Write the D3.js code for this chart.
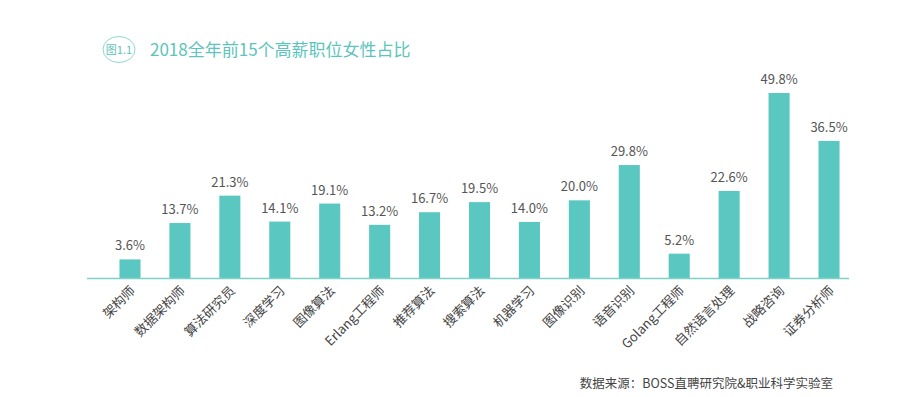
<!DOCTYPE html>
<html>
<head>
<meta charset="utf-8">
<script src="https://cdn.jsdelivr.net/npm/d3@7"></script>
<style>
  html, body { margin: 0; padding: 0; background: #fff; }
  svg { display: block; font-family: "Noto Sans CJK SC", "Noto Sans", sans-serif; }
</style>
</head>
<body>
<svg id="chart"></svg>
<script>
// data
let categories = ["架构师", "数据架构师", "算法研究员", "深度学习", "图像算法", "Erlang工程师", "推荐算法",
    "搜索算法", "机器学习", "图像识别", "语音识别", "Golang工程师", "自然语言处理", "战略咨询", "证券分析师"];
let values = [3.6, 13.7, 21.3, 14.1, 19.1, 13.2, 16.7, 19.5, 14.0, 20.0, 29.8, 5.2, 22.6, 49.8, 36.5];

let title = "2018全年前15个高薪职位女性占比";
let badge = "图1.1";
let source = "数据来源：BOSS直聘研究院&职业科学实验室";

let width = 921;
let height = 397;
let teal = "#5ac8c0";

let svg = d3.select("#chart")
    .attr("width", width)
    .attr("height", height);

let x = d3.scaleBand()
    .domain(categories)
    .range([87, 872])
    .paddingInner(0.578)
    .paddingOuter(0.65);

// bars don't start from zero in the original, the baseline sits a bit below 0
let y = d3.scaleLinear()
    .domain([-1.7, 49.8])
    .range([278.5, 93]);

// title block
svg.append("ellipse")
    .attr("cx", 119)
    .attr("cy", 49.5)
    .attr("rx", 16)
    .attr("ry", 13)
    .attr("fill", "none")
    .attr("stroke", "#8fd6d0")
    .attr("stroke-width", 1);

svg.append("text")
    .attr("x", 119)
    .attr("y", 53.5)
    .attr("text-anchor", "middle")
    .attr("font-size", 11)
    .attr("fill", "#5bc4bc")
    .text(badge);

svg.append("text")
    .attr("x", 150)
    .attr("y", 56)
    .attr("font-size", 17)
    .attr("fill", "#5bc4bc")
    .text(title);

// bars
svg.selectAll("rect.bar")
    .data(values)
    .join("rect")
    .attr("class", "bar")
    .attr("x", (d, i) => x(categories[i]))
    .attr("width", x.bandwidth())
    .attr("y", d => y(d))
    .attr("height", d => y(-1.7) - y(d))
    .attr("fill", teal);

// value labels
svg.selectAll("text.val")
    .data(values)
    .join("text")
    .attr("class", "val")
    .attr("x", (d, i) => x(categories[i]) + x.bandwidth() / 2)
    .attr("y", d => y(d) - 9)
    .attr("text-anchor", "middle")
    .attr("font-size", 13)
    .attr("fill", "#555")
    .text(d => d.toFixed(1) + "%");

// x axis: rotated labels, the base line is drawn separately
let xAxis = svg.append("g")
    .attr("transform", "translate(0," + y(-1.7) + ")")
    .call(d3.axisBottom(x).tickSize(0).tickSizeOuter(0));

xAxis.select(".domain").remove();

svg.append("line")
    .attr("x1", 87)
    .attr("x2", 849)
    .attr("y1", y(-1.7))
    .attr("y2", y(-1.7))
    .attr("stroke", "#7fd0c9")
    .attr("stroke-width", 1.5);

xAxis.selectAll(".tick text")
    .attr("font-family", "\"Noto Sans CJK SC\", sans-serif")
    .attr("font-size", 13)
    .attr("fill", "#444")
    .attr("text-anchor", "end")
    .attr("dy", 0)
    .attr("y", 0)
    .attr("transform", "translate(6,13) rotate(-45)");

// source note
svg.append("text")
    .attr("x", 833)
    .attr("y", 388)
    .attr("text-anchor", "end")
    .attr("font-size", 12.5)
    .attr("fill", "#444")
    .text(source);
</script>
</body>
</html>
